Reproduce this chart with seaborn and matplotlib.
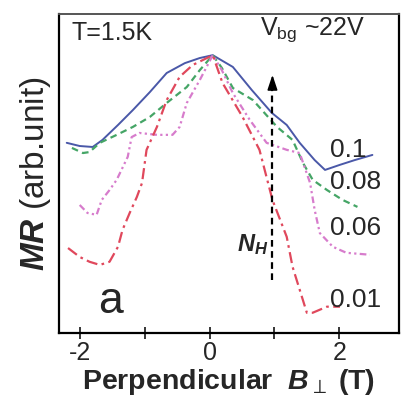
import numpy as np
import pandas as pd
import matplotlib
matplotlib.use('Agg')
import matplotlib.pyplot as plt
import seaborn as sns

# MR curves (B in T, MR in arbitrary units)
b_01 = [-2.20, -2.00, -1.80, -1.65, -1.41, -1.18, -0.92, -0.66, -0.38, -0.15, 0.05,
        0.36, 0.65, 0.96, 1.19, 1.39, 1.62, 1.78, 2.01, 2.24, 2.51]
mr_01 = [59.6, 58.6, 58.3, 60.5, 65.2, 69.9, 75.5, 81.5, 84.6, 86.2, 87.1,
         83.4, 76.2, 69.0, 65.2, 59.6, 54.2, 51.1, 52.7, 54.2, 55.8]

b_008 = [-2.12, -1.95, -1.85, -1.69, -1.43, -1.18, -0.92, -0.66, -0.35, -0.15, 0.05,
         0.19, 0.36, 0.67, 1.04, 1.28, 1.44, 1.59, 1.81, 2.05, 2.28]
mr_008 = [58.0, 56.4, 56.7, 59.6, 62.1, 64.6, 67.7, 72.1, 77.1, 82.4, 87.1,
          83.1, 76.8, 73.0, 64.6, 60.5, 53.3, 48.0, 44.8, 41.7, 39.5]

b_006 = [-2.00, -1.88, -1.74, -1.66, -1.54, -1.43, -1.26, -1.20, -1.08, -0.81, -0.57,
         -0.46, -0.35, -0.15, 0.05, 0.19, 0.36, 0.62, 0.88, 1.19, 1.39, 1.55,
         1.62, 1.70, 1.90, 2.11, 2.47]
mr_006 = [40.1, 37.6, 37.0, 41.7, 44.8, 48.0, 55.2, 61.4, 62.7, 62.1, 62.1,
          64.6, 72.1, 79.3, 87.1, 82.4, 75.2, 66.8, 59.6, 57.4, 56.4, 47.0,
          38.6, 31.3, 27.0, 25.1, 24.5]

b_001 = [-2.18, -2.00, -1.85, -1.69, -1.54, -1.41, -1.34, -1.23, -1.12, -1.04, -0.97,
         -0.81, -0.66, -0.46, -0.26, 0.05, 0.20, 0.51, 0.77, 0.97, 1.19, 1.28,
         1.39, 1.50, 1.59, 1.81, 2.01]
mr_001 = [26.6, 23.8, 22.3, 21.3, 22.3, 27.0, 32.3, 37.6, 42.6, 47.0, 57.4,
          64.6, 73.0, 80.3, 84.0, 87.1, 78.4, 67.7, 57.4, 41.7, 30.1, 20.7,
          13.5, 6.3, 6.3, 8.2, 8.2]

curve_labels = ['0.1', '0.08', '0.06', '0.01']
label_y = [57.4, 47.3, 32.9, 10.3]
x_ticks = [-2, -1, 0, 1, 2]
x_ticklabels = ['-2', '', '0', '', '2']

# vertical N_H arrow
arrow_x = 0.97
arrow_y0, arrow_y1 = 16.6, 81.8

sns.set_style('ticks')
plt.rcParams['font.family'] = ['Liberation Sans', 'DejaVu Sans']
plt.rcParams['mathtext.fontset'] = 'custom'
plt.rcParams['mathtext.rm'] = 'Liberation Sans'
plt.rcParams['mathtext.it'] = 'Liberation Sans:bold:italic'
plt.rcParams['mathtext.bf'] = 'Liberation Sans:bold'

fig, ax = plt.subplots(figsize=(4.01, 4.01), dpi=100)
fig.subplots_adjust(left=0.147, right=0.995, bottom=0.170, top=0.965)

series = [
    (b_01, mr_01, '#4a58a8', '-', 1.4),
    (b_008, mr_008, '#45a566', (0, (3, 2)), 1.6),
    (b_006, mr_006, '#d77ccc', (0, (3, 1.5, 1, 1.5, 1, 1.5)), 1.6),
    (b_001, mr_001, '#e0485c', (0, (5, 2, 1.2, 2)), 1.6),
]
for bx, my, col, ls, lw in series:
    sns.lineplot(x=bx, y=my, ax=ax, color=col, linestyle=ls, linewidth=lw,
                 sort=False, estimator=None)

# dashed N_H arrow
ax.plot([arrow_x, arrow_x], [arrow_y0, arrow_y1 - 5], color='black',
        linestyle=(0, (3, 2)), linewidth=1.6)
ax.annotate('', xy=(arrow_x, arrow_y1), xytext=(arrow_x, arrow_y1 - 6),
            arrowprops=dict(arrowstyle='-|>,head_width=0.3,head_length=0.9',
                            color='black', lw=1.2))

for txt, yy in zip(curve_labels, label_y):
    ax.text(1.85, yy, txt, fontsize=19, ha='left', va='center')

ax.text(0.038, 0.94, 'T=1.5K', transform=ax.transAxes, fontsize=18,
        ha='left', va='center')
ax.text(0.59, 0.95, r'V$_{\rm bg}$ ~22V', transform=ax.transAxes, fontsize=18,
        ha='left', va='center')
ax.text(0.90, 27.6, r'$N_H$', fontsize=17, ha='right', va='center')
ax.text(-1.72, 6.3, 'a', fontsize=32, ha='left', va='baseline')

ax.set_xlim(-2.32, 2.92)
ax.set_ylim(0, 100)
ax.set_xticks(x_ticks)
ax.set_xticklabels(x_ticklabels, fontsize=18)
ax.set_yticks([])
ax.tick_params(axis='x', direction='inout', length=8, width=1.3, pad=2)

ax.set_xlabel(r'Perpendicular  $B_{\perp}$ (T)', fontsize=20.5,
              fontweight='bold', labelpad=1)
ax.set_ylabel(r'$MR$ (arb.unit)', fontsize=24, labelpad=4)

for side in ['left', 'bottom', 'right']:
    ax.spines[side].set_linewidth(1.6)
    ax.spines[side].set_color('black')
ax.spines['top'].set_linewidth(1.4)
ax.spines['top'].set_color('#555555')

plt.savefig('out.png', dpi=100)
